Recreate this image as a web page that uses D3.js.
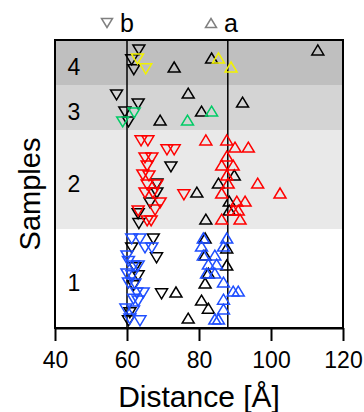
<!DOCTYPE html>
<html>
<head>
<meta charset="utf-8">
<script src="https://cdn.jsdelivr.net/npm/d3@7"></script>
<style>
  body { margin: 0; background: #fff; }
  svg text { font-family: "Liberation Sans", Arial, sans-serif; fill: #000; }
</style>
</head>
<body>
<svg id="chart" width="364" height="412"></svg>
<script>
// samples and their vertical extents (in row units)
var samples = ["1", "2", "3", "4"];
var sampleBreaks = [0, 11, 22, 27, 32];
var bandColors = ["#ffffff", "#e9e9e9", "#d4d4d4", "#bfbfbf"];
var refLines = [60, 88];
var xTicks = [40, 60, 80, 100, 120];

// [distance, row] ; "b" = down triangles, "a" = up triangles
var s1bColor = [[61.3,9.9],[63.6,9.9],[65.0,8.9],[66.9,8.9],[60.0,8.0],[60.4,7.4],[61.8,6.9],[63.1,6.9],[60.0,6.0],[61.4,5.8],
                [60.4,5.0],[62.2,4.9],[62.7,3.9],[64.5,3.9],[61.8,3.2],[63.1,3.0],[59.7,2.1],[61.8,1.9],[60.8,1.0],[63.6,0.8]];
var s1bBlack = [[67.3,9.9],[61.3,8.9],[68.2,7.8],[62.2,6.7],[63.1,5.8],[61.8,4.7],[69.6,3.8],[60.8,1.7],[60.4,0.8]];
var s1aColor = [[81.2,10.0],[87.7,10.0],[80.7,9.1],[86.8,9.1],[81.2,8.1],[84.4,8.1],[82.6,7.1],[84.9,7.1],[82.1,6.1],[84.4,6.1],
                [86.8,5.1],[89.5,4.1],[90.9,4.1],[86.8,3.2],[86.8,2.1],[84.4,1.0],[85.4,1.0]];
var s1aBlack = [[73.6,4.0],[77.0,1.1],[81.7,10.0],[87.7,8.9],[81.7,8.1],[87.7,7.0],[82.6,6.1],[81.7,5.0],[80.7,3.1],[82.6,2.2]];

var s2bColor = [[63.9,20.8],[65.8,20.8],[71.1,19.8],[73.1,19.8],[65.0,18.9],[66.9,18.9],[65.6,18.0],[64.4,17.0],[66.1,16.9],[65.6,15.9],
                [68.3,15.9],[65.0,15.0],[67.2,15.0],[75.8,14.8],[69.2,13.9],[67.8,13.1],[63.1,13.0],[65.6,11.9],[66.7,11.9]];
var s2bBlack = [[72.2,17.9],[68.3,16.0],[68.3,15.0],[66.4,13.9],[63.1,12.7],[63.3,11.6]];
var s2aColor = [[81.9,20.9],[87.7,20.9],[90.0,20.1],[93.7,20.1],[87.7,19.1],[86.3,18.1],[89.5,18.1],[87.7,17.0],[88.1,16.1],[96.3,16.1],
                [86.3,15.0],[102.5,15.0],[90.5,14.1],[92.8,14.1],[89.5,13.1],[90.9,13.1],[86.3,12.1],[91.4,12.1]];
var s2aBlack = [[89.8,17.0],[85.4,16.1],[79.4,15.1],[88.4,14.1],[88.4,13.1],[81.9,12.1]];

var s3bColor = [[62.0,23.9],[58.8,22.9]];
var s3bBlack = [[57.1,25.9],[63.1,24.9],[59.4,24.0],[60.4,22.9]];
var s3aColor = [[83.5,24.1],[76.8,23.1]];
var s3aBlack = [[69.2,23.1],[77.0,26.1],[80.7,24.1],[92.1,25.1]];

var s4bColor = [[62.9,29.9],[65.2,28.8]];
var s4bBlack = [[63.3,30.9],[61.3,29.8],[61.9,28.7]];
var s4aColor = [[85.4,30.0],[88.9,29.0]];
var s4aBlack = [[73.1,29.0],[83.5,30.0],[113.0,30.9]];

var sampleColors = ["#1f4fff", "#ff0000", "#00cc66", "#f2f200"];

var series = [
  {pts: s1bBlack, dir: "b", color: "#000"}, {pts: s1aBlack, dir: "a", color: "#000"},
  {pts: s1bColor, dir: "b", color: sampleColors[0]}, {pts: s1aColor, dir: "a", color: sampleColors[0]},
  {pts: s2bBlack, dir: "b", color: "#000"}, {pts: s2aBlack, dir: "a", color: "#000"},
  {pts: s2bColor, dir: "b", color: sampleColors[1]}, {pts: s2aColor, dir: "a", color: sampleColors[1]},
  {pts: s3bBlack, dir: "b", color: "#000"}, {pts: s3aBlack, dir: "a", color: "#000"},
  {pts: s3bColor, dir: "b", color: sampleColors[2]}, {pts: s3aColor, dir: "a", color: sampleColors[2]},
  {pts: s4bBlack, dir: "b", color: "#000"}, {pts: s4aBlack, dir: "a", color: "#000"},
  {pts: s4bColor, dir: "b", color: sampleColors[3]}, {pts: s4aColor, dir: "a", color: sampleColors[3]}
];

var svg = d3.select("#chart");
var margin = {top: 40, right: 21, bottom: 84, left: 55};
var width = 364 - margin.left - margin.right;
var height = 412 - margin.top - margin.bottom;

var x = d3.scaleLinear().domain([40, 120]).range([0, width]);
var y = d3.scaleLinear().domain([0, 32]).range([height, 0]);

var g = svg.append("g").attr("transform", "translate(" + margin.left + "," + margin.top + ")");

// triangle paths (bounding box centred)
function tri(dir, w, h) {
  var s = dir === "a" ? 1 : -1;
  return "M0," + (-s * h / 2) + "L" + (w / 2) + "," + (s * h / 2) + "L" + (-w / 2) + "," + (s * h / 2) + "Z";
}

// sample bands
g.selectAll(".band")
  .data(samples)
  .enter().append("rect")
  .attr("class", "band")
  .attr("x", 0)
  .attr("width", width)
  .attr("y", function(d, i) { return y(sampleBreaks[i + 1]); })
  .attr("height", function(d, i) { return y(sampleBreaks[i]) - y(sampleBreaks[i + 1]); })
  .attr("fill", function(d, i) { return bandColors[i]; });

g.selectAll(".slabel")
  .data(samples)
  .enter().append("text")
  .attr("class", "slabel")
  .attr("x", 19)
  .attr("y", function(d, i) { return (y(sampleBreaks[i]) + y(sampleBreaks[i + 1])) / 2 + 4.5; })
  .attr("dy", "0.35em")
  .attr("text-anchor", "middle")
  .style("font-size", "23px")
  .text(function(d) { return d; });

// reference lines
g.selectAll(".ref")
  .data(refLines)
  .enter().append("line")
  .attr("x1", function(d) { return x(d); })
  .attr("x2", function(d) { return x(d); })
  .attr("y1", 0)
  .attr("y2", height)
  .attr("stroke", "#000")
  .attr("stroke-width", 1.5);

// points
series.forEach(function(s) {
  g.selectAll(null)
    .data(s.pts)
    .enter().append("path")
    .attr("d", tri(s.dir, 12, 10))
    .attr("transform", function(d) { return "translate(" + x(d[0]) + "," + y(d[1]) + ")"; })
    .attr("fill", "none")
    .attr("stroke", s.color)
    .attr("stroke-width", 1.5);
});

// frame
g.append("rect")
  .attr("width", width)
  .attr("height", height)
  .attr("fill", "none")
  .attr("stroke", "#000")
  .attr("stroke-width", 2);

// x axis
var xAxis = g.append("g")
  .attr("class", "axis x")
  .attr("transform", "translate(0," + height + ")")
  .call(d3.axisBottom(x).tickValues(xTicks).tickSize(13).tickPadding(11).tickSizeOuter(0));
xAxis.select(".domain").attr("stroke-width", 2);
xAxis.selectAll(".tick line").attr("stroke-width", 2);
xAxis.selectAll(".tick text").style("font-size", "23px").attr("font-family", "Liberation Sans, Arial, sans-serif");

g.append("text")
  .attr("x", width / 2)
  .attr("y", height + 79)
  .attr("text-anchor", "middle")
  .style("font-size", "30px")
  .text("Distance [Å]");

svg.append("text")
  .attr("transform", "translate(40," + (margin.top + height / 2 + 10) + ") rotate(-90)")
  .attr("text-anchor", "middle")
  .style("font-size", "29px")
  .text("Samples");

// legend
var legend = [{dir: "b", label: "b", x: 107}, {dir: "a", label: "a", x: 211}];
var lg = svg.selectAll(".legend")
  .data(legend)
  .enter().append("g")
  .attr("class", "legend")
  .attr("transform", function(d) { return "translate(" + d.x + ",23)"; });
lg.append("path")
  .attr("d", function(d) { return tri(d.dir, 11, 9); })
  .attr("fill", "none")
  .attr("stroke", "#808080")
  .attr("stroke-width", 1.5);
lg.append("text")
  .attr("x", 13)
  .attr("y", 9)
  .style("font-size", "25px")
  .text(function(d) { return d.label; });
</script>
</body>
</html>
